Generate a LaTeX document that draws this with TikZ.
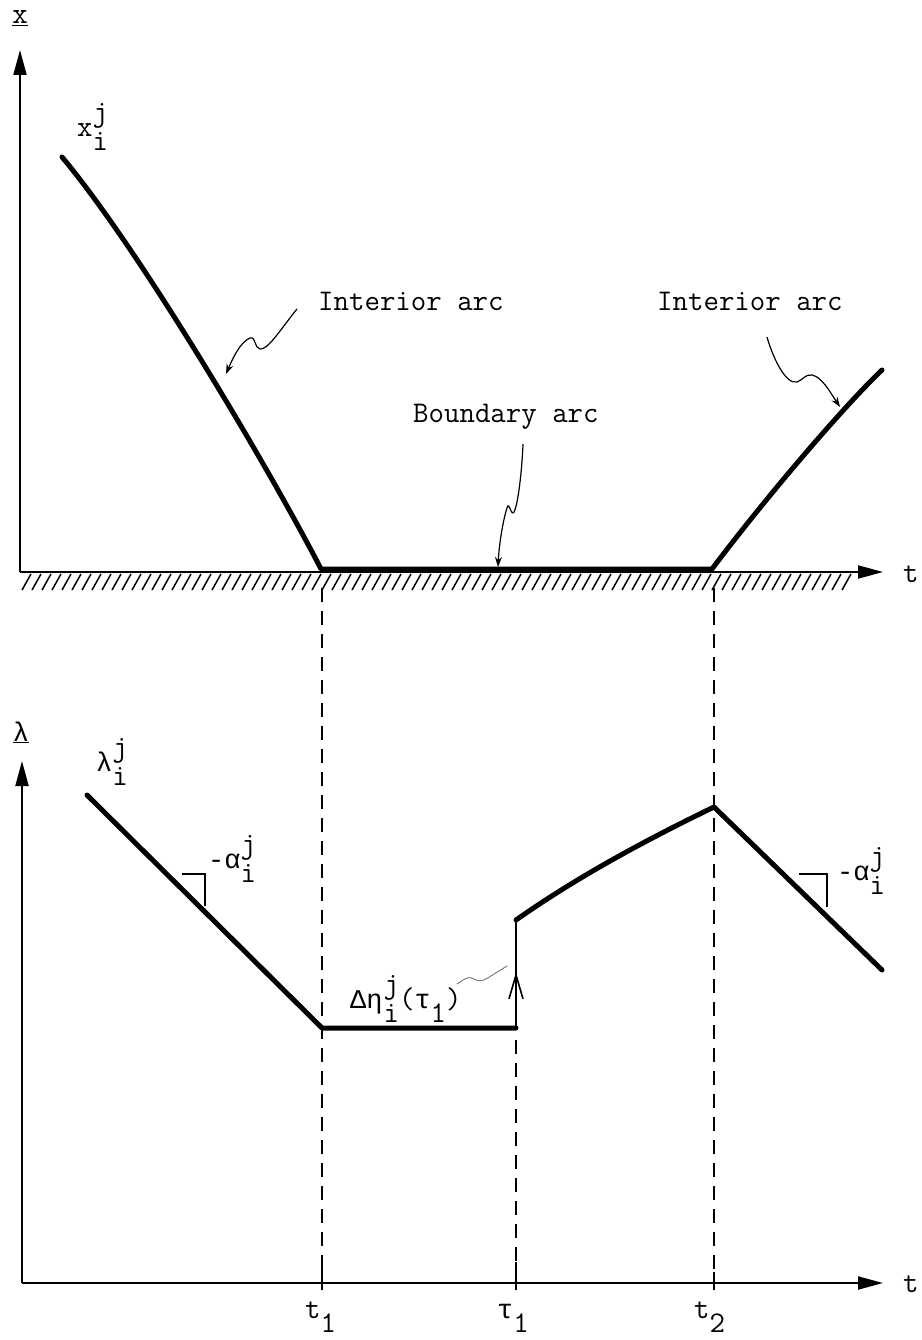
\documentclass[tikz,border=0pt]{standalone}
\usepackage{fontspec}
\newfontfamily\grk{Liberation Mono}
\usetikzlibrary{arrows.meta}
\newcommand{\G}[1]{{\grk\fontsize{27}{30}\selectfont #1}}
\newcommand{\SupSub}[2]{\rlap{\raisebox{15pt}{#1}}\raisebox{-14pt}{#2}}
\newcommand{\Lo}[1]{\raisebox{-14pt}{#1}}
\begin{document}
\begin{tikzpicture}[x=1pt,y=-1pt,
  lbl/.style={font=\fontsize{30}{34}\ttfamily, inner sep=0pt, anchor=base west},
  axis/.style={line width=2pt, -{Triangle[length=25pt,width=13pt]}},
  curve/.style={line width=5pt, line cap=round, line join=round},
  guide/.style={line width=1.6pt, dash pattern=on 14pt off 9pt},
  thin/.style={line width=1.6pt},
  wig/.style={line width=1.2pt, -{Stealth[length=10pt,width=7pt]}},
  hatch/.style={line width=1.5pt}]
\useasboundingbox (0,0) rectangle (921,1340);

% ---------- top plot ----------
\coordinate (O1) at (20,572);
\coordinate (Y1) at (20,50);
\coordinate (X1) at (883,572);
\foreach \x in {22,32,...,845} \draw[hatch] (\x,590) -- (\x+9,574);
\draw[axis] (O1) -- (Y1);
\draw[axis] (O1) -- (X1);

\coordinate (A) at (62,157);
\coordinate (B) at (321,569);
\coordinate (C) at (712,569);
\coordinate (D) at (882,370);
\draw[curve] (A) .. controls (140,250) and (270,470) .. (B) -- (C)
  .. controls (760,505) and (840,410) .. (D);

\node[font=\fontsize{30}{34}\ttfamily, inner sep=0pt, anchor=base] (xax) at (20,24) {\underline{x}};
\node[lbl] (tax1) at (903,582) {t};
\node[lbl] (xlab) at (77,137) {x\SupSub{j}{i}};
\node[lbl] (ia1) at (318,310) {Interior arc};
\node[lbl] (ia2) at (657,310) {Interior arc};
\node[lbl] (ba) at (413,422) {Boundary arc};

\coordinate (w1s) at (297,309);
\coordinate (w1e) at (226,374);
\draw[wig] (w1s) .. controls (280,330) and (268,350) .. (260,349)
  .. controls (254,348) and (256,336) .. (250,338)
  .. controls (240,342) and (232,360) .. (w1e);
\coordinate (w2s) at (767,337);
\coordinate (w2e) at (840,407);
\draw[wig] (w2s) .. controls (772,355) and (785,385) .. (797,382)
  .. controls (803,380) and (805,374) .. (812,375)
  .. controls (822,377) and (830,392) .. (w2e);
\coordinate (w3s) at (523,444);
\coordinate (w3e) at (498,567);
\draw[wig] (w3s) .. controls (522,470) and (518,505) .. (514,512)
  .. controls (511,517) and (509,500) .. (507,508)
  .. controls (503,520) and (499,545) .. (w3e);

% ---------- guide lines ----------
\coordinate (g1t) at (322,588);
\coordinate (g1b) at (322,1258);
\coordinate (g2t) at (516,1040);
\coordinate (g2b) at (516,1262);
\coordinate (g3t) at (714,588);
\coordinate (g3b) at (714,1272);
\draw[guide] (g1t) -- (g1b);
\draw[guide] (g2t) -- (g2b);
\draw[guide] (g3t) -- (g3b);
\draw[thin] (g1b) -- (322,1290);
\draw[thin] (g2b) -- (516,1290);
\draw[thin] (g3b) -- (714,1290);

% ---------- bottom plot ----------
\coordinate (O2) at (22,1283);
\coordinate (Y2) at (22,761);
\coordinate (X2) at (883,1283);
\draw[axis] (O2) -- (Y2);
\draw[axis] (O2) -- (X2);

\coordinate (E) at (87,795);
\coordinate (F) at (322,1028);
\coordinate (G) at (516,1028);
\coordinate (H) at (516,920);
\coordinate (P) at (714,807);
\coordinate (Q) at (882,970);
\draw[curve] (E) -- (F) -- (G);
\draw[thin] (G) -- (H);
\draw[thin, -{Straight Barb[length=24pt,width=14pt]}] (G) -- (516,972);
\draw[curve] (H) .. controls (580,875) and (650,838) .. (P) -- (Q);

\draw[thin] (182,874) -- (205,874) -- (205,906);
\draw[thin] (799,874) -- (827,874) -- (827,907);

\node[inner sep=0pt, anchor=base] (lax) at (21,741) {\underline{\G{λ}}};
\node[lbl] (tax2) at (903,1292) {t};
\node[lbl] (llab) at (96,771) {\G{λ}\SupSub{j}{i}};
\node[lbl] (alab1) at (208,868) {\G{-α}\SupSub{j}{i}};
\node[lbl] (alab2) at (837,880) {\G{-α}\SupSub{j}{i}};
\node[lbl] (dlab) at (350,1008) {\G{Δη}\kern1pt\SupSub{j}{i}(\G{τ}\Lo{1})};
\draw[gray, line width=1pt] (457,984) .. controls (463,980) and (468,976) .. (472,978)
  .. controls (477,981) and (480,982) .. (486,979) -- (507,966);

\node[lbl] (t1) at (305,1318) {t\Lo{1}};
\node[lbl] (tau1) at (497,1318) {\G{τ}\Lo{1}};
\node[lbl] (t2) at (694,1318) {t\Lo{2}};
\end{tikzpicture}
\end{document}
